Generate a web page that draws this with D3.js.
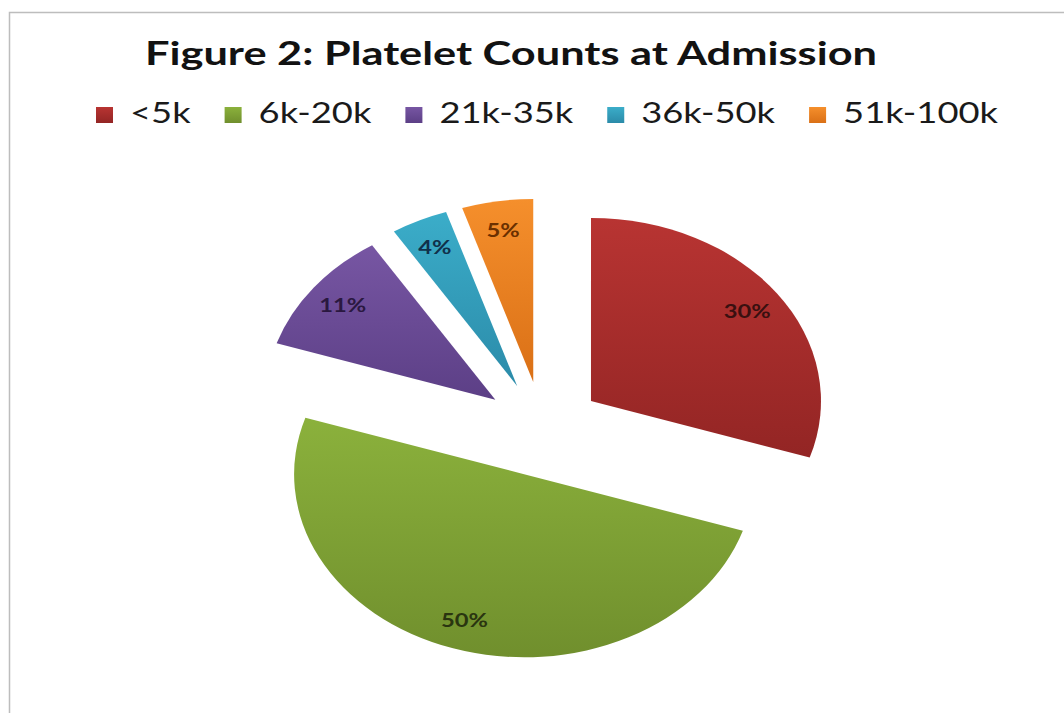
<!DOCTYPE html>
<html><head><meta charset="utf-8">
<script src="https://cdn.jsdelivr.net/npm/d3@7"></script>
<style>body{margin:0;background:#fff}</style>
</head><body><svg id="c" width="1064" height="713"></svg>
<script>
const title = "Figure 2: Platelet Counts at Admission";
const categories = ["<5k", "6k-20k", "21k-35k", "36k-50k", "51k-100k"];
const values = [30, 50, 11, 4, 5];
const valueLabels = ["30%", "50%", "11%", "4%", "5%"];
const colorsTop = ["#b83432", "#8bb13c", "#7756a3", "#3badc9", "#f58f2c"];
const colorsBottom = ["#932524", "#708f2d", "#5c3f86", "#2b8ba9", "#da7016"];
const labelColors = ["#3a1010", "#2a3510", "#2a1840", "#10304a", "#6a3000"];

const W = 1064, H = 713;
const svg = d3.select("#c");
const font = "Lato, 'Open Sans', sans-serif";

// frame
svg.append("path").attr("d", `M9.5,${H}V12.5H${W}`)
  .attr("fill", "none").attr("stroke", "#bdbdbd").attr("stroke-width", 1.5);

// gradients
const defs = svg.append("defs");
categories.forEach((c, i) => {
  const lg = defs.append("linearGradient").attr("id", "g" + i)
    .attr("x1", 0).attr("y1", 0).attr("x2", 0).attr("y2", 1);
  lg.append("stop").attr("offset", "0%").attr("stop-color", colorsTop[i]);
  lg.append("stop").attr("offset", "100%").attr("stop-color", colorsBottom[i]);
});

// title
svg.append("text").attr("x", 511).attr("y", 65).attr("text-anchor", "middle")
  .style("font-family", font).style("font-weight", "bold").style("font-size", "32px")
  .attr("fill", "#121212").text(title)
  .attr("textLength", 732).attr("lengthAdjust", "spacingAndGlyphs");

// legend
const legend = svg.append("g");
const items = legend.selectAll("g").data(categories).join("g");
const ltexts = items.append("text").attr("y", 123)
  .style("font-family", font).style("font-size", "28px").attr("fill", "#1a1a1a")
  .text(d => d);
const natural = ltexts.nodes().map(n => n.getComputedTextLength());
const sumNat = d3.sum(natural);
const stretch = 596 / sumNat;
let lx = 96;
items.each(function(d, i) {
  const gi = d3.select(this);
  gi.insert("rect", "text").attr("x", lx).attr("y", 107).attr("width", 17).attr("height", 16)
    .attr("fill", `url(#g${i})`);
  const w = natural[i] * stretch;
  gi.select("text").attr("x", lx + 34).attr("textLength", w).attr("lengthAdjust", "spacingAndGlyphs");
  lx += 34 + w + 34;
});

// pie
const R = 230, ryScale = 183 / 230, explode = 0.26 * R;
const cx = 542.6, cy = 429;
const arcs = d3.pie().sort(null).value(d => d)(values);
const arc = d3.arc().innerRadius(0).outerRadius(R);
const labelArc = d3.arc().innerRadius(0.84 * R).outerRadius(0.84 * R);
const pg = svg.append("g").attr("transform", `translate(${cx},${cy}) scale(1,${ryScale})`);
function off(a) {
  const m = (a.startAngle + a.endAngle) / 2;
  return [explode * Math.sin(m), -explode * Math.cos(m)];
}
pg.selectAll("path").data(arcs).join("path")
  .attr("transform", d => { const o = off(d); return `translate(${o[0]},${o[1]})`; })
  .attr("d", arc)
  .attr("fill", (d, i) => `url(#g${i})`);

// value labels
svg.append("g").selectAll("text").data(arcs).join("text")
  .attr("x", d => cx + off(d)[0] + labelArc.centroid(d)[0])
  .attr("y", d => cy + (off(d)[1] + labelArc.centroid(d)[1]) * ryScale)
  .attr("dy", "0.36em").attr("text-anchor", "middle")
  .style("font-family", font).style("font-weight", "bold").style("font-size", "19px")
  .attr("fill", (d, i) => labelColors[i])
  .text((d, i) => valueLabels[i])
  .each(function() {
    const w = this.getComputedTextLength();
    d3.select(this).attr("textLength", w * 1.25).attr("lengthAdjust", "spacingAndGlyphs");
  });
</script>
</body></html>
